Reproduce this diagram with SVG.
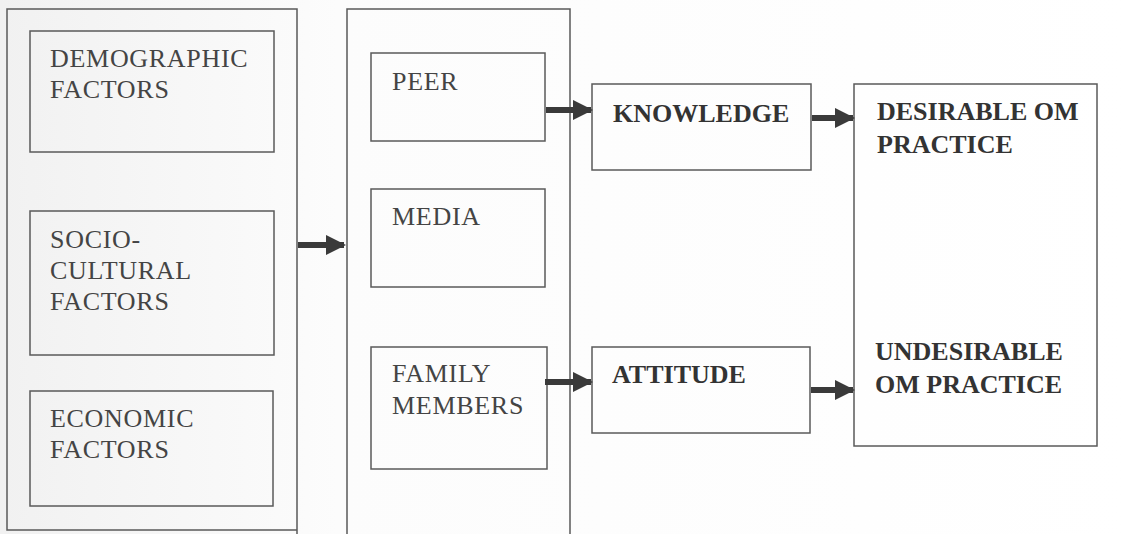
<svg xmlns="http://www.w3.org/2000/svg" width="1126" height="534" viewBox="0 0 1126 534">
<defs>
<marker id="ah" viewBox="0 0 10 10" refX="9" refY="5" markerWidth="3.4" markerHeight="3.4" markerUnits="strokeWidth" orient="auto">
<path d="M0,0 L10,5 L0,10 z" fill="#3a3a3a"/>
</marker>
<linearGradient id="bg" x1="0" y1="0" x2="1" y2="0">
<stop offset="0" stop-color="#f1f1f1"/>
<stop offset="0.3" stop-color="#fcfcfc"/>
<stop offset="1" stop-color="#ffffff"/>
</linearGradient>
</defs>
<style>
.box{fill:none;stroke:#5a5a5a;stroke-width:1.5}
.t{font-family:"Liberation Serif","Times New Roman",serif;font-size:26px;fill:#444;letter-spacing:0.7px}
.b{font-weight:bold;fill:#333;letter-spacing:0}
.arr{stroke:#3a3a3a;stroke-width:6;fill:none}
</style>
<rect x="0" y="0" width="1126" height="534" fill="url(#bg)"/>
<g id="left-group">
<path class="box" d="M297,534 L297,9 L7,9 L7,530 L297,530"/>
</g>
<g id="demographic">
<rect class="box" x="30" y="31" width="244" height="121"/>
<text class="t" x="50" y="67">DEMOGRAPHIC</text>
<text class="t" x="50" y="98">FACTORS</text>
</g>
<g id="sociocultural">
<rect class="box" x="30" y="211" width="244" height="144"/>
<text class="t" x="50" y="248">SOCIO-</text>
<text class="t" x="50" y="279">CULTURAL</text>
<text class="t" x="50" y="310">FACTORS</text>
</g>
<g id="economic">
<rect class="box" x="30" y="391" width="243" height="115"/>
<text class="t" x="50" y="427">ECONOMIC</text>
<text class="t" x="50" y="458">FACTORS</text>
</g>
<g id="middle-group">
<path class="box" d="M347,534 L347,9 L570,9 L570,534"/>
</g>
<g id="peer">
<rect class="box" x="371" y="53" width="174" height="88"/>
<text class="t" x="392" y="90">PEER</text>
</g>
<g id="media">
<rect class="box" x="371" y="189" width="174" height="98"/>
<text class="t" x="392" y="225">MEDIA</text>
</g>
<g id="family">
<rect class="box" x="371" y="347" width="176" height="122"/>
<text class="t" x="392" y="382">FAMILY</text>
<text class="t" x="392" y="414">MEMBERS</text>
</g>
<g id="knowledge">
<rect class="box" x="592" y="84" width="219" height="86"/>
<text class="t b" x="613" y="122">KNOWLEDGE</text>
</g>
<g id="attitude">
<rect class="box" x="592" y="347" width="218" height="86"/>
<text class="t b" x="612" y="383">ATTITUDE</text>
</g>
<g id="practice">
<rect class="box" x="854" y="84" width="243" height="362"/>
<text class="t b" x="877" y="120">DESIRABLE OM</text>
<text class="t b" x="877" y="153">PRACTICE</text>
<text class="t b" x="875" y="360">UNDESIRABLE</text>
<text class="t b" x="875" y="393">OM PRACTICE</text>
</g>
<g id="connectors">
<line class="arr" x1="298" y1="245" x2="344" y2="245" marker-end="url(#ah)"/>
<line class="arr" x1="546" y1="110" x2="591" y2="110" marker-end="url(#ah)"/>
<line class="arr" x1="812" y1="118" x2="853" y2="118" marker-end="url(#ah)"/>
<line class="arr" x1="545" y1="382" x2="591" y2="382" marker-end="url(#ah)"/>
<line class="arr" x1="811" y1="390" x2="853" y2="390" marker-end="url(#ah)"/>
</g>
</svg>
